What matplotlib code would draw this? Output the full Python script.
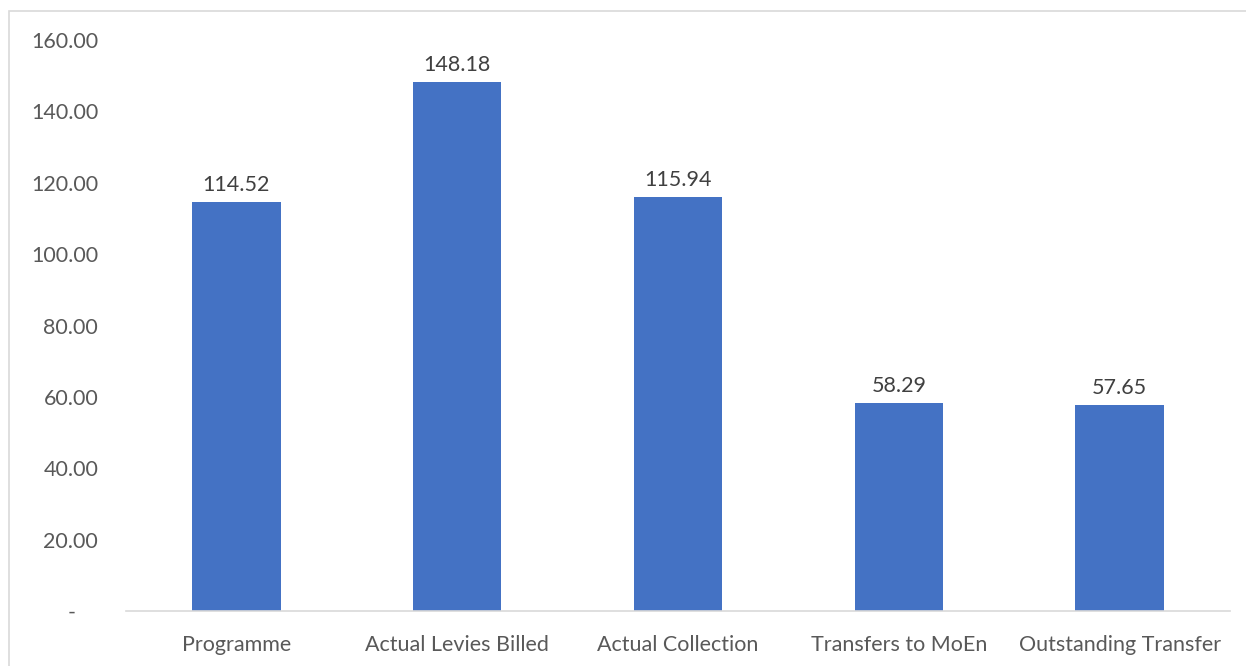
import numpy as np
import matplotlib.pyplot as plt
from matplotlib.patches import Rectangle

categories = ['Programme', 'Actual Levies Billed', 'Actual Collection',
              'Transfers to MoEn', 'Outstanding Transfer']
values = [114.52, 148.18, 115.94, 58.29, 57.65]
yticks = [0, 20, 40, 60, 80, 100, 120, 140, 160]

plt.rcParams['font.family'] = ['Lato', 'DejaVu Sans']
text_color = '#595959'
fs = 15.5

fig = plt.figure(figsize=(12.46, 6.66), dpi=100)
ax = fig.add_axes([126 / 1246, 55 / 666, 1104 / 1246, 571 / 666])

x = np.arange(len(categories))
bars = ax.bar(x, values, width=0.4, color='#4472C4')
for b, v in zip(bars, values):
    ax.text(b.get_x() + b.get_width() / 2, v + 2, f'{v:.2f}',
            ha='center', va='bottom', fontsize=fs, color='#404040')

ax.set_xlim(-0.5, len(categories) - 0.5)
ax.set_ylim(0, 160)
ax.set_xticks(x)
ax.set_xticklabels(categories, fontsize=fs, color=text_color)
ax.set_yticks(yticks)
ax.set_yticklabels(['-    ' if t == 0 else f'{t:.2f}' for t in yticks],
                   fontsize=fs, color=text_color)
ax.tick_params(axis='x', length=0, pad=17)
ax.tick_params(axis='y', length=0, pad=20)

for s in ['top', 'right', 'left']:
    ax.spines[s].set_visible(False)
ax.spines['bottom'].set_color('#d9d9d9')
ax.spines['bottom'].set_linewidth(1.2)

# chart area border
fig.patches.append(Rectangle((9 / 1246, -0.1), 1.2, 1 - 11 / 666 + 0.1,
                             transform=fig.transFigure, fill=False,
                             edgecolor='#d9d9d9', linewidth=1.2))

fig.savefig('out.png', dpi=100)
